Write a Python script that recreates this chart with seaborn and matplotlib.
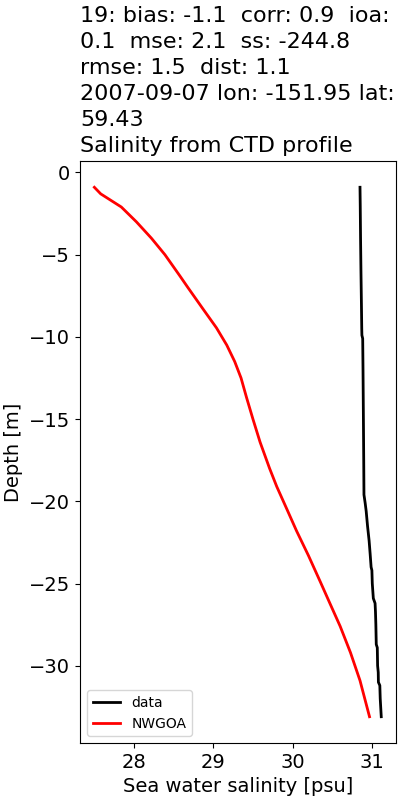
import numpy as np
import pandas as pd
import matplotlib
matplotlib.use("Agg")
import matplotlib.pyplot as plt
import seaborn as sns

# CTD profile (observed)
data_depth = [-0.9, -2.0, -4.0, -6.0, -8.0, -9.5, -9.9, -10.1, -12.0, -15.0,
              -17.5, -19.6, -20.1, -20.6, -21.5, -22.4, -23.2, -24.0, -24.2,
              -25.0, -25.9, -26.2, -26.7, -27.5, -28.7, -28.9, -30.0, -30.4,
              -31.0, -31.2, -32.0, -33.1]
data_sal = [30.850, 30.853, 30.857, 30.862, 30.868, 30.872, 30.874, 30.884,
            30.888, 30.893, 30.897, 30.900, 30.915, 30.928, 30.945, 30.965,
            30.978, 30.990, 31.000, 31.005, 31.018, 31.040, 31.045, 31.050,
            31.055, 31.068, 31.072, 31.080, 31.082, 31.100, 31.105, 31.118]

# NWGOA model profile
model_depth = [-0.9, -1.3, -2.1, -3.0, -4.0, -5.0, -6.3, -7.0, -8.3, -9.45,
               -10.5, -11.5, -12.5, -13.7, -15.0, -16.4, -18.0, -19.1, -20.5,
               -21.8, -23.3, -24.9, -26.2, -27.6, -29.2, -30.9, -32.0, -33.1]
model_sal = [27.50, 27.58, 27.84, 28.03, 28.22, 28.39, 28.58, 28.68, 28.87,
             29.04, 29.17, 29.27, 29.35, 29.42, 29.50, 29.59, 29.71, 29.80,
             29.93, 30.05, 30.20, 30.35, 30.47, 30.60, 30.73, 30.85, 30.91,
             30.97]

title = ("19: bias: -1.1  corr: 0.9  ioa:\n0.1  mse: 2.1  ss: -244.8\n"
         "rmse: 1.5  dist: 1.1\n2007-09-07 lon: -151.95 lat:\n59.43\n"
         "Salinity from CTD profile")

plt.rcParams['font.family'] = ['DejaVu Sans']
plt.rcParams['font.size'] = 14

fig = plt.figure(figsize=(4, 8), dpi=100)
ax = fig.add_axes([0.2, 0.071, 0.789, 0.728])

sns.lineplot(x=data_sal, y=data_depth, sort=False, estimator=None,
             color='black', linewidth=2, label='data', ax=ax)
sns.lineplot(x=model_sal, y=model_depth, sort=False, estimator=None,
             color='red', linewidth=2, label='NWGOA', ax=ax)

ax.set_xticks([28, 29, 30, 31])
ax.set_xlabel('Sea water salinity [psu]', fontsize=14)
ax.set_ylabel('Depth [m]', fontsize=14)
ax.tick_params(labelsize=14)
ax.set_title(title, loc='left', fontsize=16, linespacing=1.38)
ax.legend(loc='lower left', fontsize=10)

fig.savefig('out.png', dpi=100)
